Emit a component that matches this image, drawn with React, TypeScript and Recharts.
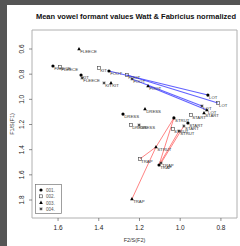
import { ScatterChart, Scatter, XAxis, YAxis, ReferenceLine, ReferenceArea, Label } from "recharts";

const vowels = ["FLEECE", "KIT", "DRESS", "TRAP", "STRUT", "FOOT", "LOT", "START"];
const speakers = ["001.", "002.", "003.", "004."];

// normalized F2 / F1 means per speaker, in vowel order
const s1F2 = [1.625, 1.487, 1.281, 1.104, 1.031, 1.35, 0.864, 0.962];
const s1F1 = [0.735, 0.807, 1.117, 1.522, 1.148, 0.775, 0.966, 1.188];
const s2F2 = [1.59, 1.399, 1.242, 1.198, 1.036, 1.261, 0.815, 0.947];
const s2F1 = [0.743, 0.751, 1.204, 1.474, 1.236, 0.807, 1.029, 1.125];
const s3F2 = [1.497, 1.34, 1.173, 1.237, 1.119, 1.158, 0.869, 0.883];
const s3F1 = [0.6, 0.87, 1.077, 1.792, 1.379, 0.894, 1.085, 1.109];
const s4F2 = [1.482, 1.374, 1.202, 1.094, 1.006, 1.237, 0.893, 0.982];
const s4F1 = [0.831, 0.87, 1.204, 1.506, 1.252, 0.838, 1.053, 1.212];

const xTicks = [0.8, 1.0, 1.2, 1.4, 1.6];
const yTicks = [0.6, 0.8, 1.0, 1.2, 1.4, 1.6, 1.8];

// [speaker, vowel] -> [speaker, vowel]
const blueLinks: [number, string, number, string][] = [
  [0, "FOOT", 0, "LOT"],
  [1, "FOOT", 1, "LOT"],
  [2, "FOOT", 2, "LOT"],
  [3, "FOOT", 3, "LOT"],
];
const redLinks: [number, string, number, string][] = [
  [0, "STRUT", 2, "STRUT"],
  [0, "STRUT", 0, "TRAP"],
  [2, "STRUT", 2, "TRAP"],
  [2, "STRUT", 1, "TRAP"],
  [3, "STRUT", 0, "TRAP"],
  [3, "START", 3, "TRAP"],
];

const allF2 = [s1F2, s2F2, s3F2, s4F2];
const allF1 = [s1F1, s2F1, s3F1, s4F1];

const series = speakers.map((sp, i) =>
  vowels.map((v, j) => ({ vowel: v, x: allF2[i][j], y: allF1[i][j] }))
);

const pt = (s: number, v: string) => {
  const j = vowels.indexOf(v);
  return { x: allF2[s][j], y: allF1[s][j] };
};

const FONT = "'Liberation Sans', Arial, sans-serif";

const Mark = ({ cx, cy, kind }: { cx: number; cy: number; kind: number }) => {
  if (kind === 0) return <circle cx={cx} cy={cy} r={1.6} fill="#000" />;
  if (kind === 1)
    return <rect x={cx - 1.5} y={cy - 1.5} width={3} height={3} fill="none" stroke="#444" strokeWidth={0.6} />;
  if (kind === 2)
    return <polygon points={`${cx},${cy - 2} ${cx - 1.8},${cy + 1.3} ${cx + 1.8},${cy + 1.3}`} fill="#000" />;
  return (
    <g stroke="#222" strokeWidth={0.6}>
      <line x1={cx - 1.6} y1={cy} x2={cx + 1.6} y2={cy} />
      <line x1={cx} y1={cy - 1.6} x2={cx} y2={cy + 1.6} />
      <line x1={cx - 1.2} y1={cy - 1.2} x2={cx + 1.2} y2={cy + 1.2} />
      <line x1={cx - 1.2} y1={cy + 1.2} x2={cx + 1.2} y2={cy - 1.2} />
    </g>
  );
};

const PointShape = (kind: number) => (p: any) => (
  <g>
    <Mark cx={p.cx} cy={p.cy} kind={kind} />
    <text x={p.cx + 1.2} y={p.cy + 4.2} fontSize={4.3} fill="#333" fontFamily={FONT}>
      {p.payload.vowel}
    </text>
  </g>
);

const XTick = (p: any) => (
  <text x={p.x} y={p.y + 6.5} textAnchor="middle" fontSize={6.5} fill="#222" fontFamily={FONT}>
    {p.payload.value.toFixed(1)}
  </text>
);

const YTick = (p: any) => (
  <text x={p.x} y={p.y} textAnchor="middle" fontSize={6.5} fill="#222" fontFamily={FONT}
    transform={`rotate(-90, ${p.x}, ${p.y})`}>
    {p.payload.value.toFixed(1)}
  </text>
);

const Legend4 = () => (
  <svg width={28} height={30} style={{ position: "absolute", left: 35, top: 184 }}>
    <rect x={0.5} y={0.5} width={26} height={29} fill="#fff" stroke="#777" strokeWidth={0.7} />
    {speakers.map((s, i) => (
      <g key={s}>
        <Mark cx={6} cy={6 + i * 6.3} kind={i} />
        <text x={11} y={8 + i * 6.3} fontSize={4.6} fill="#555" fontFamily={FONT}>{s}</text>
      </g>
    ))}
  </svg>
);

export default function App() {
  return (
    <div style={{ position: "absolute", left: 0, top: 0, width: 240, height: 246, background: "#555", overflow: "hidden" }}>
      <div style={{ position: "absolute", left: 7, top: 5, width: 233, height: 241, background: "#fff" }} />
      <div style={{ position: "absolute", left: 0, top: 0, width: 240, height: 246 }}>
        <ScatterChart width={240} height={246} margin={{ top: 30, right: 3, bottom: 0, left: 0 }}>
          <XAxis type="number" dataKey="x" domain={[0.721, 1.728]} reversed allowDataOverflow
            ticks={xTicks} tick={XTick} tickSize={3} tickMargin={2} height={28}
            axisLine={false} tickLine={{ stroke: "#444", strokeWidth: 0.6 }}>
            <Label content={(p: any) => (
              <text x={p.viewBox.x + p.viewBox.width / 2} y={p.viewBox.y + 24} textAnchor="middle"
                fontSize={5.5} fill="#333" fontFamily={FONT}>F2/S(F2)</text>
            )} />
          </XAxis>
          <YAxis type="number" dataKey="y" domain={[0.449, 1.943]} reversed allowDataOverflow
            ticks={yTicks} tick={YTick} tickSize={3} tickMargin={5} width={32}
            axisLine={false} tickLine={{ stroke: "#444", strokeWidth: 0.6 }}>
            <Label content={(p: any) => {
              const cx = p.viewBox.x + 14;
              const cy = p.viewBox.y + p.viewBox.height / 2;
              return (
                <text x={cx} y={cy} textAnchor="middle" fontSize={5.5} fill="#333" fontFamily={FONT}
                  transform={`rotate(-90, ${cx}, ${cy})`}>F1/S(F1)</text>
              );
            }} />
          </YAxis>
          <ReferenceArea x1={0.721} x2={1.728} y1={0.449} y2={1.943} fill="none" stroke="#b0b0b0" strokeWidth={1} />
          {blueLinks.map(([a, va, b, vb], i) => (
            <ReferenceLine key={"b" + i} segment={[pt(a, va), pt(b, vb)]} stroke="#3b3bff" strokeWidth={1.1} strokeOpacity={0.8} />
          ))}
          {redLinks.map(([a, va, b, vb], i) => (
            <ReferenceLine key={"r" + i} segment={[pt(a, va), pt(b, vb)]} stroke="#ff4d4d" strokeWidth={0.7} />
          ))}
          {series.map((d, i) => (
            <Scatter key={speakers[i]} name={speakers[i]} data={d} shape={PointShape(i)} isAnimationActive={false} />
          ))}
        </ScatterChart>
      </div>
      <div style={{ position: "absolute", left: 0, width: 272, top: 12, textAlign: "center", fontFamily: FONT,
        fontWeight: "bold", fontSize: 7.5, color: "#111", whiteSpace: "nowrap", lineHeight: "10px" }}>
        Mean vowel formant values Watt &amp; Fabricius normalized
      </div>
      <Legend4 />
    </div>
  );
}
